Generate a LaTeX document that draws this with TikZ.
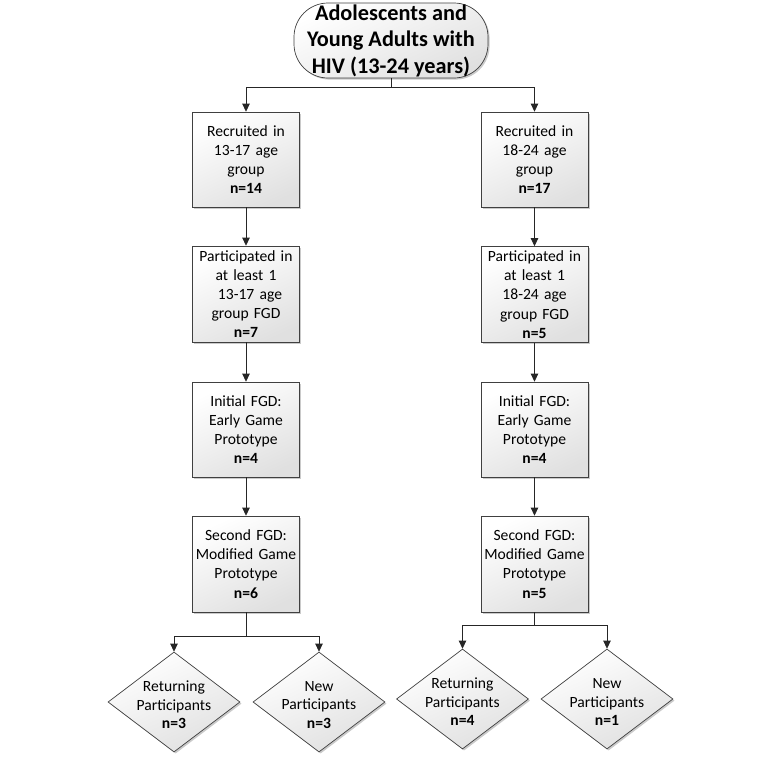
\documentclass[tikz,border=0pt]{standalone}
\usepackage{fontspec}
\setmainfont{Carlito}
\usetikzlibrary{arrows.meta,shapes.geometric,shadows}
\begin{document}
\begin{tikzpicture}[x=1pt,y=-1pt,
  every node/.style={inner sep=0pt},
  shade/.style={top color=white, bottom color=black!12, shading angle=25},
  shad/.style={drop shadow={shadow xshift=1.6pt, shadow yshift=-1.6pt, fill=black!35, opacity=0.6}},
  stepbox/.style={draw=black!75, line width=0.7pt, shade, shad, minimum width=107pt, minimum height=95pt,
     text width=104pt, align=center, font=\fontsize{15.6}{19.2}\selectfont},
  term/.style={draw=black!75, line width=0.7pt, shade, shad, rounded corners=34pt, minimum width=194pt, minimum height=75pt,
     align=center, font=\fontsize{22.3}{26.5}\selectfont\bfseries},
  dia/.style={diamond, draw=black!75, line width=0.7pt, shade, shad, minimum width=132pt, minimum height=100pt},
  dtext/.style={align=center, font=\fontsize{15.6}{18.6}\selectfont},
  link/.style={draw=black!85, line width=0.8pt},
  arr/.style={link, -{Triangle[width=7.5pt,length=8pt]}}]
\useasboundingbox (0,0) rectangle (782,756);

\node[term] (T) at (391,40.5) {Adolescents and\\Young Adults with\\HIV (13-24 years)};

\node[stepbox] (L1) at (246,159.5) {Recruited in\\13-17 age\\group\\\textbf{n=14}};
\node[stepbox, minimum height=96pt] (L2) at (246,294) {Participated in\\at least 1\\\hspace*{8pt}13-17 age\\group FGD\\\textbf{n=7}};
\node[stepbox] (L3) at (246,429.5) {Initial FGD:\\Early Game\\Prototype\\\textbf{n=4}};
\node[stepbox, minimum height=96pt] (L4) at (246,564) {Second FGD:\\Modified Game\\Prototype\\\textbf{n=6}};

\node[stepbox] (R1) at (534.5,159.5) {Recruited in\\18-24 age\\group\\\textbf{n=17}};
\node[stepbox, minimum height=96pt] (R2) at (534.5,294.5) {Participated in\\at least 1\\18-24 age\\group FGD\\\textbf{n=5}};
\node[stepbox] (R3) at (534.5,429.5) {Initial FGD:\\Early Game\\Prototype\\\textbf{n=4}};
\node[stepbox, minimum height=96pt] (R4) at (534.5,564) {Second FGD:\\Modified Game\\Prototype\\\textbf{n=5}};

\node[dia] (LD1) at (174,702) {};
\node[dtext] (LD1t) at (174,705) {Returning\\Participants\\\textbf{n=3}};
\node[dia] (LD2) at (319,702) {};
\node[dtext] (LD2t) at (319,705) {New\\Participants\\\textbf{n=3}};
\node[dia] (RD1) at (462.5,699) {};
\node[dtext] (RD1t) at (462.5,702) {Returning\\Participants\\\textbf{n=4}};
\node[dia] (RD2) at (607,699) {};
\node[dtext] (RD2t) at (607,702) {New\\Participants\\\textbf{n=1}};

\coordinate (jt) at (391,87);
\coordinate (jl) at (246,636);
\coordinate (jr) at (534.5,625);

\draw[link] (T.south) -- (jt);
\draw[arr] (jt) -| (L1.north);
\draw[arr] (jt) -| (R1.north);
\draw[arr] (L1) -- (L2);
\draw[arr] (L2) -- (L3);
\draw[arr] (L3) -- (L4);
\draw[arr] (R1) -- (R2);
\draw[arr] (R2) -- (R3);
\draw[arr] (R3) -- (R4);
\draw[link] (L4.south) -- (jl);
\draw[arr] (jl) -| (LD1.north);
\draw[arr] (jl) -| (LD2.north);
\draw[link] (R4.south) -- (jr);
\draw[arr] (jr) -| (RD1.north);
\draw[arr] (jr) -| (RD2.north);
\end{tikzpicture}
\end{document}
